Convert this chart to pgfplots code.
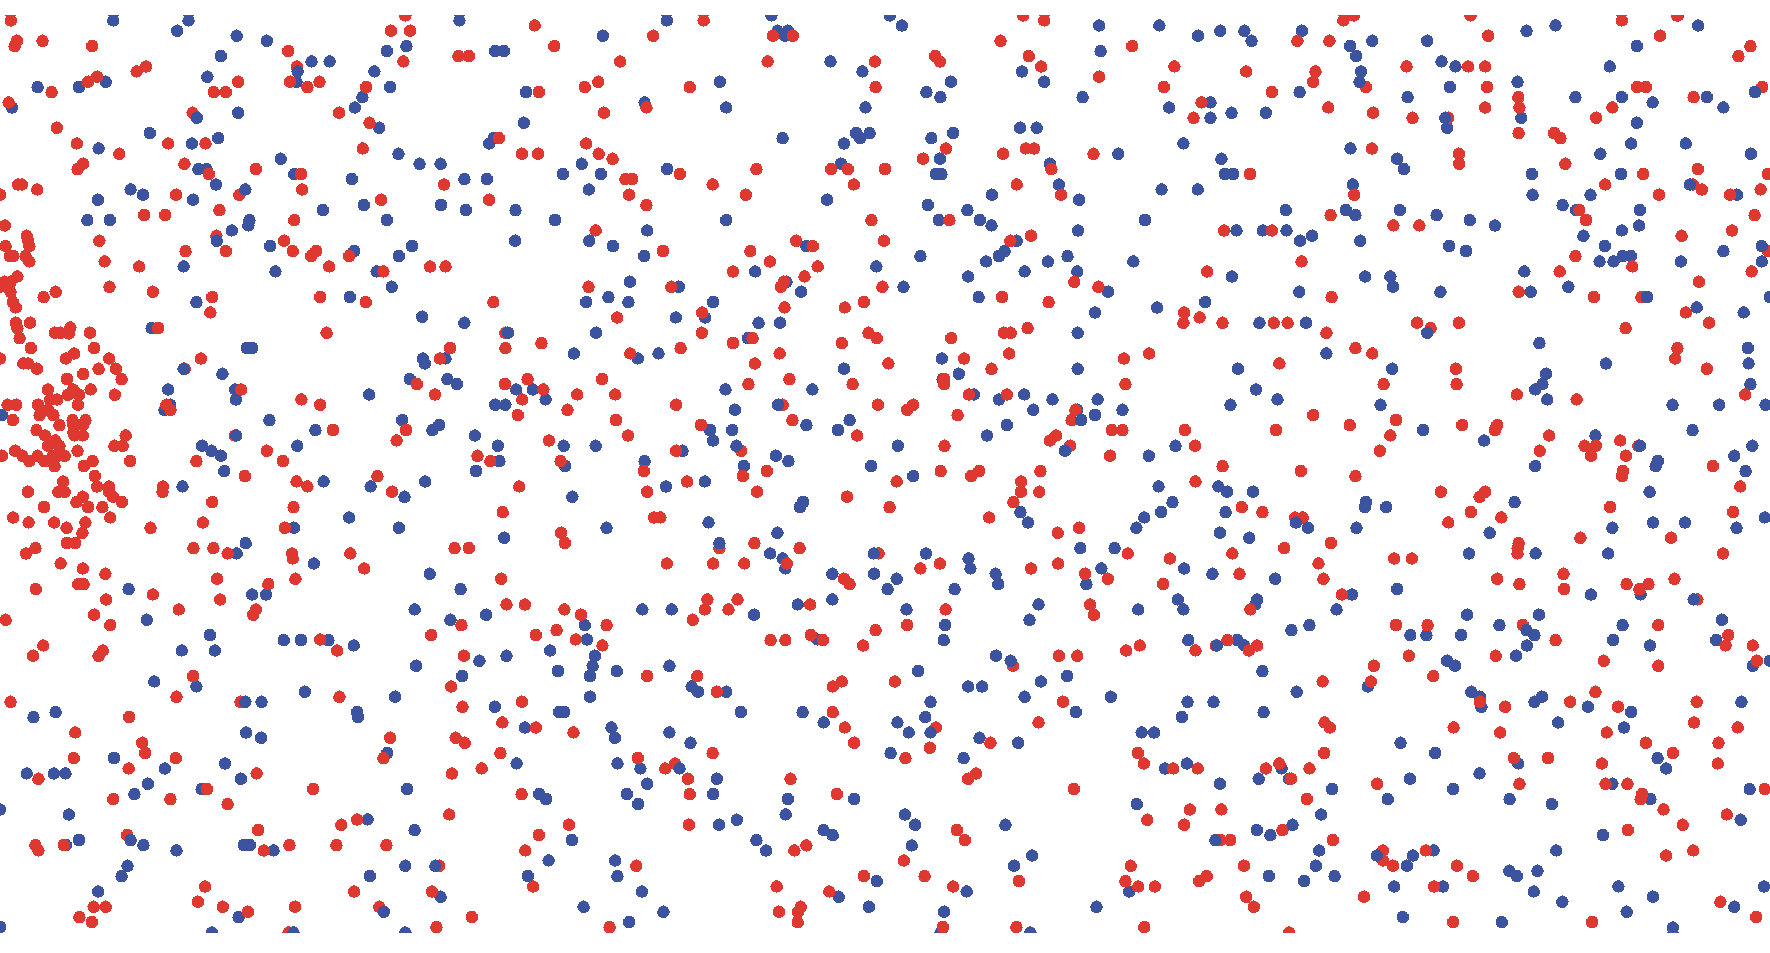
\documentclass[border=0pt]{standalone}
\usepackage{pgfplots}
\pgfplotsset{compat=1.18}
\definecolor{dotblue}{HTML}{3C539F}
\definecolor{dotred}{HTML}{DE3831}
% positions read per crop: x in 1/2.6576 px, y in 1/3 px; #2,#3 = crop offset
\newcommand{\pts}[4]{\addplot[#1] table[x expr=\thisrowno{0}+#2,y expr=\thisrowno{1}+#3] {#4};}
\begin{document}
\begin{tikzpicture}
\useasboundingbox (0,0) rectangle (17.7cm,9.52cm);
\clip (0,0.2cm) rectangle (17.7cm,9.3633cm);
\begin{axis}[at={(0,0)},anchor=south west,scale only axis,width=17.7cm,height=9.52cm,
hide axis,xmin=0,xmax=4704,ymin=0,ymax=2856,y dir=reverse,clip=false,
table/header=false,table/col sep=comma,table/row sep=\\,
bl/.style={only marks,color=dotblue,mark=*,mark size=1.62pt,mark options={solid,fill=dotblue,draw=dotblue,line width=0pt}},
rd/.style={only marks,color=dotred,mark=*,mark size=1.62pt,mark options={solid,fill=dotred,draw=dotred,line width=0pt}}]
% blue
\pts{bl}{0}{0}{301,61\\501,61\\471,92\\629,107\\709,122\\1221,61\\587,168\\551,230\\828,184\\876,184\\788,245\\100,261\\210,261\\281,245\\32,322\\633,338\\398,399\\262,445\\510,430\\580,414\\1028,153\\1080,138\\995,214\\1037,261\\963,291\\943,322\\1008,383\\1059,461\\1115,491\\1171,491\\746,476\\527,507\\549,507\\574,553\\782,522\\935,537\\347,568\\380,584\\260,599\\513,599\\232,660\\292,660\\858,630\\967,615\\1028,660\\1172,615\\1234,537\\1294,537\\1238,630\\1316,153\\1339,153\\1398,276\\1392,368\\1312,414\\1300,430\\1546,491\\1496,522\\1565,568\\1370,630\\1475,660\\1369,722\\1566,722\\663,660\\660,676\\616,691\\718,738\\941,753\\1095,738\\1060,768\\488,799\\732,814\\1001,814\\1041,860\\930,891\\522,906\\1122,950\\1558,906\\}
\pts{bl}{1568}{0}{204,61\\34,107\\482,46\\498,92\\526,92\\518,107\\797,46\\829,76\\1353,76\\1513,76\\1357,153\\639,184\\724,214\\345,245\\145,307\\362,322\\894,276\\959,245\\931,291\\732,322\\1148,214\\1207,245\\1309,291\\1539,322\\512,414\\707,399\\743,399\\718,414\\675,430\\907,414\\965,399\\1143,383\\1187,383\\205,507\\29,522\\667,491\\930,476\\919,522\\934,522\\1222,491\\1246,553\\1404,461\\630,599\\898,615\\1068,584\\1300,599\\1519,568\\1003,630\\1036,660\\1067,676\\927,660\\362,660\\1475,660\\152,691\\1297,691\\61,738\\144,768\\575,738\\1134,722\\878,768\\1102,753\\1087,768\\1053,784\\1217,784\\1269,768\\1444,784\\761,799\\1155,814\\1295,814\\439,814\\1005,829\\106,845\\236,860\\522,845\\561,875\\833,860\\1377,875\\49,891\\102,906\\327,906\\1033,891\\1342,937\\1507,922\\228,952\\306,952\\}
\pts{bl}{3136}{0}{48,107\\107,92\\171,92\\190,122\\324,92\\452,138\\511,122\\468,168\\657,122\\921,92\\998,76\\1323,46\\1377,76\\1214,138\\695,184\\732,199\\481,214\\1142,199\\897,245\\717,261\\318,276\\81,307\\605,291\\1051,291\\1174,291\\1256,307\\1400,291\\1444,322\\137,338\\228,338\\81,353\\710,383\\907,353\\1214,368\\9,430\\453,445\\1199,430\\1344,430\\1117,461\\1517,461\\110,476\\577,476\\595,507\\119,522\\141,522\\935,522\\1172,522\\47,568\\459,553\\937,584\\1091,584\\1480,584\\281,630\\441,630\\466,645\\584,630\\682,645\\1017,615\\1053,630\\1222,630\\770,660\\837,676\\1220,676\\150,691\\220,691\\283,691\\1174,691\\1072,707\\351,707\\319,722\\479,722\\715,738\\760,753\\1129,738\\1444,753\\1176,768\\1198,768\\1115,784\\1152,784\\1331,784\\1546,784\\915,814\\138,829\\492,829\\559,829\\566,860\\1032,860\\317,875\\692,875\\932,875\\1568,891\\67,906\\1373,922\\1498,937\\}
\pts{bl}{0}{960}{403,24\\1234,8\\656,84\\670,84\\1525,100\\1124,115\\1184,115\\1129,130\\591,161\\1089,177\\1189,177\\1214,192\\447,208\\625,208\\981,223\\627,238\\1372,208\\1416,208\\1450,238\\1316,254\\1343,254\\452,254\\437,269\\5,285\\716,300\\1069,300\\838,330\\1167,315\\1149,330\\1262,346\\537,377\\562,392\\587,407\\790,377\\1323,377\\1498,377\\1327,423\\596,453\\1502,438\\1265,453\\860,484\\1130,484\\485,499\\985,499\\1075,530\\1521,530\\928,592\\781,623\\1060,623\\1340,653\\653,669\\629,700\\834,730\\1142,761\\342,807\\670,823\\707,823\\1224,807\\1102,868\\1292,884\\1197,899\\390,899\\1554,915\\558,945\\754,960\\800,960\\873,960\\1560,958\\}
\pts{bl}{1568}{960}{16,38\\448,8\\505,8\\420,54\\127,115\\182,100\\935,115\\675,146\\937,177\\980,161\\1296,38\\1296,146\\360,208\\591,208\\1020,223\\385,269\\1087,238\\1154,223\\1229,238\\1349,238\\1178,269\\1295,269\\1342,285\\1415,269\\690,300\\575,315\\1108,315\\319,330\\378,330\\659,330\\1055,346\\327,361\\818,377\\15,377\\246,392\\1485,407\\1556,377\\494,407\\527,423\\145,423\\409,438\\747,438\\859,468\\202,499\\305,484\\1511,499\\566,546\\558,561\\1548,546\\1144,576\\1518,576\\1473,592\\1164,607\\315,607\\1452,623\\44,623\\498,638\\1303,684\\1394,684\\479,700\\893,700\\512,715\\1006,715\\519,745\\1011,745\\644,761\\755,761\\1359,745\\1078,761\\815,776\\1085,792\\1319,792\\791,807\\969,807\\644,838\\552,853\\1192,853\\1562,838\\841,868\\139,868\\217,868\\1457,868\\436,884\\1168,899\\944,915\\940,960\\604,958\\}
\pts{bl}{3136}{960}{211,8\\335,8\\955,69\\389,100\\1509,84\\1132,130\\1511,130\\154,146\\564,146\\973,161\\963,192\\1516,192\\944,208\\202,208\\259,238\\976,238\\134,254\\533,254\\1309,254\\1433,254\\1556,254\\646,330\\1362,330\\1104,346\\808,361\\1521,377\\1473,407\\1270,423\\1264,438\\944,438\\1503,453\\102,499\\125,515\\194,515\\1248,515\\889,546\\494,546\\491,561\\548,561\\121,576\\340,623\\469,623\\1149,623\\1257,607\\1342,607\\1479,623\\1554,592\\106,638\\184,653\\823,638\\768,700\\945,700\\1138,700\\11,745\\86,761\\253,776\\577,807\\205,838\\200,853\\457,823\\1092,823\\1224,823\\9,868\\416,868\\763,884\\954,884\\849,915\\1176,915\\1440,899\\296,930\\344,915\\612,945\\655,945\\747,945\\942,945\\1151,960\\1425,960\\22,960\\152,960\\}
\pts{bl}{0}{1920}{940,16\\483,31\\571,31\\1462,31\\1346,47\\1274,62\\1106,77\\1483,93\\1228,108\\410,124\\522,139\\695,185\\810,155\\1050,170\\1315,200\\949,216\\951,231\\1486,216\\1499,216\\148,216\\89,231\\654,277\\694,293\\1395,262\\1029,339\\303,354\\598,370\\1373,370\\438,385\\71,400\\143,400\\174,400\\640,416\\393,431\\536,447\\357,462\\1082,447\\1433,462\\1451,477\\0,508\\183,523\\977,538\\1102,570\\210,600\\175,615\\381,615\\648,615\\664,615\\727,631\\469,631\\1520,600\\1458,661\\339,677\\1077,677\\323,708\\983,708\\1403,708\\261,754\\1171,770\\1551,800\\634,831\\563,877\\1077,877\\0,861\\}
\pts{bl}{1568}{1920}{13,47\\7,77\\0,108\\71,93\\211,77\\1079,47\\872,93\\1198,124\\1268,108\\1005,139\\1042,139\\270,139\\287,155\\362,155\\1155,170\\1384,170\\0,170\\905,185\\401,216\\565,216\\1291,216\\891,231\\621,247\\817,247\\57,262\\66,293\\211,277\\847,277\\1035,293\\1466,277\\1499,277\\267,308\\1138,308\\799,339\\993,354\\73,370\\134,385\\1528,385\\337,416\\152,431\\98,462\\327,462\\526,477\\702,477\\128,492\\1453,492\\520,523\\837,523\\864,554\\1104,554\\343,554\\390,539\\621,570\\645,585\\442,600\\468,631\\855,616\\1175,646\\67,661\\1127,677\\73,708\\762,723\\1001,754\\138,754\\661,770\\1433,754\\741,800\\941,815\\195,815\\1346,800\\104,846\\1170,877\\932,877\\}
\pts{bl}{3136}{1920}{171,16\\922,16\\1249,16\\893,47\\710,62\\731,77\\1522,77\\1568,62\\219,93\\499,139\\310,155\\774,155\\797,170\\801,200\\962,170\\942,185\\20,185\\89,185\\1084,200\\1199,216\\1492,185\\222,216\\5,231\\1005,247\\1180,262\\586,308\\678,339\\1269,354\\1292,385\\899,370\\18,370\\270,385\\796,400\\209,416\\290,416\\611,416\\1149,431\\106,431\\404,447\\726,447\\1514,447\\552,477\\876,477\\1250,477\\988,492\\375,523\\1490,539\\299,554\\204,570\\240,585\\1124,585\\370,631\\674,631\\1000,631\\619,646\\361,677\\603,677\\875,692\\950,692\\895,708\\236,708\\330,723\\411,708\\569,739\\699,739\\1165,739\\940,754\\1552,739\\1257,770\\1016,785\\1473,800\\1187,815\\592,831\\855,846\\1310,862\\}
% red
\pts{rd}{0}{0}{29,61\\1077,46\\1039,92\\1090,92\\1421,76\\45,122\\113,122\\39,138\\245,138\\766,153\\1473,138\\1218,168\\1246,168\\1072,184\\789,199\\388,199\\363,214\\258,230\\234,245\\137,276\\633,245\\568,276\\600,276\\771,245\\817,261\\849,245\\973,261\\1432,276\\1554,261\\23,307\\512,338\\901,338\\151,383\\982,368\\204,430\\317,461\\447,430\\546,430\\964,445\\1326,414\\1387,461\\1430,461\\1558,430\\221,491\\206,507\\490,491\\680,507\\555,522\\800,522\\48,553\\58,553\\99,568\\0,584\\468,584\\636,584\\803,568\\1180,553\\1013,599\\1300,599\\583,630\\383,645\\439,645\\13,676\\782,660\\71,707\\75,722\\264,722\\15,738\\78,738\\575,707\\755,722\\26,768\\35,768\\68,768\\493,753\\600,753\\778,753\\840,753\\827,768\\928,768\\78,784\\278,784\\370,799\\875,799\\1143,799\\1184,799\\1019,814\\46,829\\12,845\\28,845\\0,860\\291,860\\1564,860\\28,875\\148,875\\116,891\\406,875\\564,891\\851,891\\34,906\\972,906\\1311,906\\42,922\\559,937\\}
\pts{rd}{1568}{0}{302,61\\168,107\\486,107\\539,107\\1151,46\\1207,61\\1091,122\\80,184\\472,184\\757,184\\917,168\\930,184\\1441,138\\1166,168\\1199,199\\1553,199\\1353,230\\22,245\\265,261\\759,261\\1525,261\\150,322\\37,338\\23,461\\60,476\\946,445\\885,476\\1098,461\\1158,445\\1180,445\\1338,461\\94,537\\112,537\\239,522\\442,507\\641,507\\685,507\\784,507\\1226,507\\326,553\\104,584\\414,584\\701,553\\1134,553\\1252,584\\150,615\\748,660\\955,660\\15,691\\548,722\\592,738\\781,722\\1117,722\\1172,707\\194,753\\426,753\\478,784\\605,799\\380,814\\570,829\\1287,845\\515,845\\507,860\\216,860\\777,860\\1351,860\\728,906\\1095,891\\1219,906\\517,922\\677,922\\298,937\\72,952\\}
\pts{rd}{3136}{0}{434,61\\462,46\\772,46\\1174,61\\1321,46\\819,107\\1276,107\\312,122\\397,122\\1516,138\\1484,168\\176,214\\360,214\\602,199\\766,199\\811,199\\354,245\\494,261\\816,261\\1215,261\\1238,261\\1547,261\\244,276\\899,291\\57,307\\394,322\\811,322\\902,322\\1149,322\\1365,291\\36,353\\513,338\\618,353\\713,353\\1106,353\\900,399\\994,399\\1011,414\\510,445\\741,461\\742,491\\1024,491\\1376,507\\186,522\\1231,522\\1562,522\\1130,553\\1363,553\\1387,568\\1543,568\\463,584\\1273,584\\1462,584\\1061,630\\400,645\\1527,645\\1079,660\\567,676\\636,676\\117,691\\244,691\\1333,707\\1467,691\\1051,768\\323,784\\1563,753\\72,814\\1009,814\\1202,799\\1519,814\\1379,845\\900,875\\403,891\\1100,891\\1226,891\\1344,937\\11,937\\52,952\\}
\pts{rd}{0}{960}{42,8\\80,8\\46,24\\187,22\\146,38\\160,38\\183,40\\239,38\\420,24\\868,38\\52,54\\82,84\\250,84\\197,100\\175,115\\290,115\\0,115\\534,115\\62,130\\75,130\\98,146\\262,146\\308,146\\221,162\\178,177\\323,177\\127,208\\194,208\\241,208\\180,224\\210,224\\305,224\\641,208\\133,238\\152,238\\20,254\\43,254\\101,254\\207,254\\127,269\\105,285\\142,285\\34,300\\193,300\\227,300\\220,315\\195,315\\158,315\\97,330\\195,335\\120,346\\198,346\\220,346\\334,346\\147,361\\158,377\\128,377\\304,377\\326,377\\40,392\\206,392\\60,407\\100,407\\5,407\\140,407\\153,407\\172,407\\78,423\\118,423\\246,423\\346,423\\223,438\\145,438\\252,468\\168,484\\290,499\\258,499\\155,515\\172,515\\74,515\\290,515\\220,530\\300,530\\203,546\\324,546\\117,561\\234,561\\272,561\\35,592\\293,592\\76,607\\144,607\\227,607\\177,623\\219,638\\178,669\\200,669\\94,684\\69,700\\161,730\\220,745\\280,761\\208,792\\222,792\\95,807\\282,838\\250,884\\293,915\\15,899\\491,146\\442,254\\453,269\\433,499\\432,515\\564,546\\400,623\\539,607\\514,684\\567,684\\605,700\\522,423\\651,468\\709,392\\752,423\\801,238\\851,254\\885,330\\624,346\\788,484\\817,499\\780,561\\757,623\\776,700\\778,715\\931,700\\968,745\\577,776\\713,792\\785,776\\406,823\\585,838\\680,868\\673,884\\475,868\\1003,468\\1042,515\\1054,361\\1079,330\\1108,192\\1156,223\\1169,115\\1196,84\\1343,38\\1343,84\\1439,69\\1342,192\\1402,177\\1444,208\\1388,238\\1534,223\\1508,269\\1376,285\\1269,407\\1303,423\\1459,361\\1490,423\\1380,499\\1336,576\\1491,638\\1501,669\\1208,684\\1246,684\\1332,776\\1346,853\\1395,853\\1500,868\\1544,884\\1226,915\\1146,945\\1424,945\\1479,930\\1530,958\\851,958\\}
\pts{rd}{1568}{960}{297,38\\241,84\\380,69\\432,54\\669,69\\740,38\\762,54\\960,54\\1100,38\\1118,38\\1163,24\\107,100\\504,100\\994,115\\1114,100\\1419,115\\1486,100\\438,130\\793,130\\1067,146\\32,177\\530,177\\941,177\\941,192\\421,192\\698,192\\1423,192\\67,223\\1007,223\\1108,223\\229,254\\512,254\\765,254\\859,254\\843,269\\977,285\\69,300\\538,300\\1290,269\\1280,300\\295,315\\1387,330\\1415,330\\101,346\\710,346\\1239,346\\1222,361\\1276,377\\942,377\\402,392\\229,392\\1382,407\\143,453\\470,453\\932,453\\1034,453\\1013,468\\1197,453\\406,468\\258,484\\815,484\\1146,484\\152,515\\444,515\\1145,515\\1194,515\\683,530\\1125,546\\796,561\\170,592\\187,592\\1061,592\\1300,623\\1243,638\\437,669\\344,684\\557,684\\767,700\\1429,700\\204,730\\327,730\\410,730\\523,730\\930,730\\878,745\\1172,745\\1244,730\\1541,715\\1316,761\\675,776\\690,792\\1376,776\\1523,792\\312,838\\392,838\\305,868\\368,868\\585,853\\945,868\\1329,853\\1339,884\\273,899\\44,915\\843,915\\759,930\\480,960\\519,960\\587,945\\619,960\\}
\pts{rd}{3136}{960}{9,8\\113,8\\249,8\\286,8\\630,8\\666,24\\741,8\\1184,24\\1406,8\\389,38\\466,84\\511,100\\1322,84\\1316,115\\264,130\\733,146\\1400,146\\541,192\\735,192\\895,223\\1054,238\\1502,223\\354,285\\574,300\\451,315\\750,315\\843,315\\837,330\\13,330\\255,330\\559,346\\981,346\\1170,361\\40,377\\1075,377\\1105,377\\1218,377\\531,392\\956,392\\1092,407\\1185,407\\113,438\\1416,438\\321,453\\1177,453\\1175,468\\466,468\\41,484\\1489,499\\693,515\\811,515\\796,530\\164,561\\219,576\\773,576\\1143,561\\306,592\\326,592\\854,592\\1470,576\\713,607\\1305,653\\401,669\\1064,653\\900,669\\897,684\\897,700\\277,684\\139,700\\1443,700\\569,715\\616,715\\368,730\\158,761\\1019,761\\381,776\\843,776\\902,792\\1187,792\\1245,792\\1221,807\\1021,807\\1314,776\\430,823\\1375,838\\187,868\\574,915\\658,915\\1271,915\\911,915\\1457,945\\998,960\\126,960\\}
\pts{rd}{0}{1920}{115,16\\88,47\\273,31\\262,47\\896,31\\1233,47\\513,108\\1199,139\\469,170\\639,185\\902,170\\28,185\\1229,200\\1387,185\\343,231\\200,277\\1335,247\\1424,262\\1524,277\\378,308\\386,339\\1037,293\\1211,293\\1235,308\\1330,339\\196,354\\467,354\\1019,354\\342,385\\1280,385\\102,416\\682,400\\1201,400\\550,447\\832,447\\301,477\\453,477\\1386,462\\605,492\\1194,523\\949,538\\907,554\\1512,554\\686,570\\338,585\\1432,585\\170,615\\94,615\\102,631\\769,615\\894,615\\1027,615\\701,631\\1396,631\\1167,677\\1417,739\\545,739\\941,754\\1148,754\\526,785\\249,800\\281,800\\592,800\\784,800\\1008,800\\659,815\\211,831\\244,846\\1254,831\\1160,861\\767,877\\}
\pts{rd}{1568}{1920}{33,16\\726,16\\1425,31\\1461,16\\1246,47\\1295,47\\1124,77\\152,108\\285,108\\645,139\\669,124\\810,124\\337,155\\1257,185\\645,216\\1192,247\\677,262\\919,262\\702,308\\1064,308\\903,323\\1456,339\\838,354\\127,354\\326,339\\226,370\\200,385\\1472,370\\1550,385\\1026,400\\1005,416\\260,416\\533,416\\1286,447\\265,462\\656,462\\1481,539\\263,554\\975,570\\996,600\\575,616\\543,631\\834,661\\123,677\\1437,677\\889,708\\728,708\\1140,723\\1423,723\\1457,739\\1501,739\\965,739\\496,739\\636,754\\560,800\\502,815\\553,815\\552,846\\52,861\\938,861\\1133,861\\1473,861\\}
\pts{rd}{3136}{1920}{41,31\\95,16\\183,31\\205,16\\1450,16\\1522,16\\1533,62\\608,47\\839,47\\1126,62\\1271,77\\515,77\\673,108\\379,124\\507,124\\797,185\\864,200\\1037,185\\1104,155\\1164,200\\1373,185\\727,262\\851,277\\384,247\\398,262\\1134,277\\1366,247\\1482,262\\1238,308\\1431,308\\1310,339\\383,339\\887,354\\978,354\\1121,370\\1429,370\\47,385\\228,385\\264,370\\344,385\\295,416\\524,431\\902,431\\1131,431\\1189,431\\1554,447\\1228,462\\1224,477\\337,477\\1285,508\\26,508\\110,508\\1453,523\\11,554\\1336,554\\272,570\\1190,570\\107,600\\133,600\\406,600\\539,631\\653,631\\1364,631\\1292,646\\540,661\\566,677\\170,677\\736,677\\778,708\\71,708\\51,723\\675,739\\176,770\\196,800\\489,770\\1436,785\\1531,831\\726,846\\1095,846\\290,877\\}
% blue dots lying over a red one
\pts{bl}{0}{0}{791,214\\523,353\\652,568\\576,722\\}
\pts{bl}{3136}{0}{705,353\\477,245\\1355,553\\1528,276\\1241,891\\1546,738\\}
\pts{bl}{0}{960}{488,146\\628,346\\1350,38\\}
\pts{bl}{1568}{960}{500,254\\1262,392\\389,377\\344,669\\754,700\\1305,300\\}
\pts{bl}{3136}{960}{657,38\\308,607\\1222,377\\1365,838\\921,930\\}
\pts{bl}{0}{1920}{652,185\\347,600\\780,877\\1157,677\\1020,815\\}
\pts{bl}{1568}{1920}{1118,62\\905,277\\238,385\\}
\pts{bl}{3136}{1920}{98,16\\94,600\\523,646\\}
\end{axis}
\end{tikzpicture}
\end{document}
